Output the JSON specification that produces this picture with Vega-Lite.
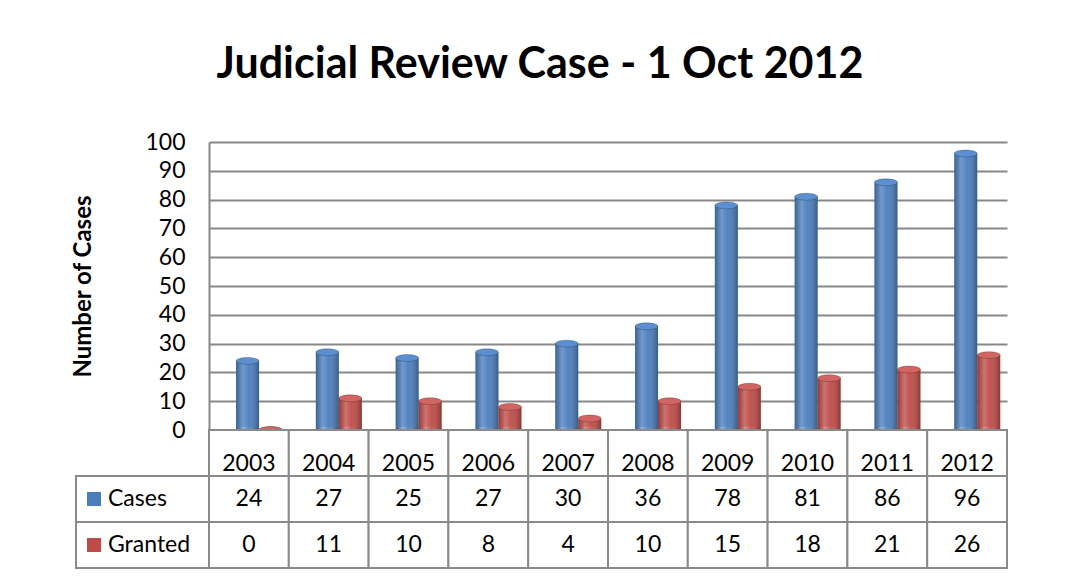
{
  "$schema": "https://vega.github.io/schema/vega-lite/v6.json",
  "padding": {"left": 71, "top": 44, "right": 0, "bottom": 0},
  "background": "white",
  "config": {
    "view": {"stroke": null},
    "font": "Lato",
    "text": {"font": "Lato", "fontSize": 23, "color": "black"},
    "axisY": {
      "values": [0, 10, 20, 30, 40, 50, 60, 70, 80, 90, 100],
      "labelOverlap": false,
      "grid": true, "gridColor": "#888888", "gridWidth": 2,
      "domain": true, "domainColor": "#888888", "domainWidth": 2,
      "ticks": false, "labelPadding": 24,
      "labelFont": "Lato", "labelFontSize": 23, "labelColor": "black",
      "titleFont": "Lato", "titleFontSize": 24,
      "titleFontWeight": "bold", "titleColor": "black", "titlePadding": 49
    }
  },
  "title": {
    "text": "Judicial Review Case - 1 Oct 2012",
    "font": "Lato",
    "fontSize": 43,
    "fontWeight": "bold",
    "color": "black",
    "anchor": "middle",
    "offset": 44
  },
  "datasets": {
    "jr": [
      {"year": "2003", "series": "Cases", "value": 24},
      {"year": "2004", "series": "Cases", "value": 27},
      {"year": "2005", "series": "Cases", "value": 25},
      {"year": "2006", "series": "Cases", "value": 27},
      {"year": "2007", "series": "Cases", "value": 30},
      {"year": "2008", "series": "Cases", "value": 36},
      {"year": "2009", "series": "Cases", "value": 78},
      {"year": "2010", "series": "Cases", "value": 81},
      {"year": "2011", "series": "Cases", "value": 86},
      {"year": "2012", "series": "Cases", "value": 96},
      {"year": "2003", "series": "Granted", "value": 0},
      {"year": "2004", "series": "Granted", "value": 11},
      {"year": "2005", "series": "Granted", "value": 10},
      {"year": "2006", "series": "Granted", "value": 8},
      {"year": "2007", "series": "Granted", "value": 4},
      {"year": "2008", "series": "Granted", "value": 10},
      {"year": "2009", "series": "Granted", "value": 15},
      {"year": "2010", "series": "Granted", "value": 18},
      {"year": "2011", "series": "Granted", "value": 21},
      {"year": "2012", "series": "Granted", "value": 26}
    ],
    "keys": [
      {"series": "Cases"},
      {"series": "Granted"}
    ]
  },
  "columns": 2,
  "spacing": 0,
  "bounds": "flush",
  "align": "each",
  "concat": [
    {
      "width": 133,
      "height": 288,
      "data": {"values": [{}]},
      "mark": {"type": "text", "text": ""},
      "encoding": {}
    },
    {
      "width": 798,
      "height": 288,
      "data": {"name": "jr"},
      "encoding": {
        "x": {"field": "year", "type": "nominal", "axis": null,
              "scale": {"paddingInner": 0, "paddingOuter": 0}},
        "xOffset": {"field": "series", "type": "nominal",
                    "scale": {"domain": ["Cases", "Granted"], "paddingInner": 0, "paddingOuter": 0.735, "align": 0.8}}
      },
      "layer": [
        {
          "mark": {"type": "bar"},
          "encoding": {
            "y": {"field": "value", "type": "quantitative",
                  "scale": {"domain": [0, 100], "nice": false, "zero": true},
                  "title": "Number of Cases"},
            "color": {"field": "series", "type": "nominal", "legend": null,
                      "scale": {"domain": ["Cases", "Granted"], "range": ["#4A7EBB", "#BE4B48"]}}
          }
        },
        {
          "mark": {"type": "point", "filled": true, "size": 529, "opacity": 1,
                   "shape": "M-1,0 C-1,-0.166 -0.552,-0.3 0,-0.3 C0.552,-0.3 1,-0.166 1,0 C1,0.166 0.552,0.3 0,0.3 C-0.552,0.3 -1,0.166 -1,0 Z"},
          "encoding": {
            "y": {"datum": 0, "type": "quantitative", "title": "Number of Cases"},
            "color": {"field": "series", "type": "nominal", "legend": null}
          }
        },
        {
          "mark": {"type": "point", "filled": true, "size": 529, "opacity": 1,
                   "shape": "M-1,0 C-1,-0.166 -0.552,-0.3 0,-0.3 C0.552,-0.3 1,-0.166 1,0 C1,0.166 0.552,0.3 0,0.3 C-0.552,0.3 -1,0.166 -1,0 Z",
                   "fill": {"gradient": "linear", "x1": 0, "x2": 1, "y1": 0, "y2": 0,
                            "stops": [{"offset": 0, "color": "rgba(0,0,0,0.22)"}, {"offset": 0.3, "color": "rgba(255,255,255,0.22)"}, {"offset": 0.55, "color": "rgba(255,255,255,0.05)"}, {"offset": 1, "color": "rgba(0,0,0,0.28)"}]}},
          "encoding": {
            "y": {"datum": 0, "type": "quantitative", "title": "Number of Cases"}
          }
        },
        {
          "mark": {"type": "bar",
                   "fill": {"gradient": "linear", "x1": 0, "x2": 1, "y1": 0, "y2": 0,
                            "stops": [{"offset": 0, "color": "rgba(0,0,0,0.22)"}, {"offset": 0.3, "color": "rgba(255,255,255,0.22)"}, {"offset": 0.55, "color": "rgba(255,255,255,0.05)"}, {"offset": 1, "color": "rgba(0,0,0,0.28)"}]}},
          "encoding": {
            "y": {"field": "value", "type": "quantitative", "title": "Number of Cases"}
          }
        },
        {
          "mark": {"type": "point", "filled": true, "size": 529, "opacity": 1,
                   "stroke": "rgba(0,0,0,0.25)", "strokeWidth": 0.8,
                   "shape": "M-1,0 C-1,-0.166 -0.552,-0.3 0,-0.3 C0.552,-0.3 1,-0.166 1,0 C1,0.166 0.552,0.3 0,0.3 C-0.552,0.3 -1,0.166 -1,0 Z"},
          "encoding": {
            "y": {"field": "value", "type": "quantitative", "title": "Number of Cases"},
            "fill": {"field": "series", "type": "nominal", "legend": null,
                     "scale": {"domain": ["Cases", "Granted"], "range": ["#5B8FD0", "#D06562"]}}
          }
        }
      ]
    },
    {
      "width": 133,
      "height": 138,
      "data": {"name": "keys"},
      "encoding": {
        "y": {"field": "series", "type": "nominal", "axis": null,
              "scale": {"domain": ["Year", "Cases", "Granted"], "paddingInner": 0, "paddingOuter": 0}}
      },
      "layer": [
        {
          "mark": {"type": "rect", "fill": "white", "stroke": "#8A8A8A", "strokeWidth": 2}
        },
        {
          "mark": {"type": "point", "shape": "square", "filled": true, "size": 196, "opacity": 1, "xOffset": -48.5},
          "encoding": {
            "color": {"field": "series", "type": "nominal", "legend": null,
                      "scale": {"domain": ["Cases", "Granted"], "range": ["#4A7EBB", "#BE4B48"]}}
          }
        },
        {
          "mark": {"type": "text", "align": "left", "baseline": "middle", "dx": -34.5, "fontSize": 23, "font": "Lato", "color": "black"},
          "encoding": {
            "text": {"field": "series"}
          }
        }
      ]
    },
    {
      "width": 798,
      "height": 138,
      "data": {"name": "jr"},
      "encoding": {
        "x": {"field": "year", "type": "nominal", "axis": null,
              "scale": {"paddingInner": 0, "paddingOuter": 0}}
      },
      "layer": [
        {
          "mark": {"type": "rect", "fill": "white", "stroke": "#8A8A8A", "strokeWidth": 2},
          "encoding": {
            "y": {"field": "series", "type": "nominal", "axis": null,
                  "scale": {"domain": ["Year", "Cases", "Granted"], "paddingInner": 0, "paddingOuter": 0}}
          }
        },
        {
          "transform": [{"filter": "datum.series === 'Cases'"}],
          "mark": {"type": "rect", "fill": "white", "stroke": "#8A8A8A", "strokeWidth": 2},
          "encoding": {
            "y": {"datum": "Year", "type": "nominal"}
          }
        },
        {
          "mark": {"type": "text", "baseline": "middle", "fontSize": 23, "font": "Lato", "color": "black"},
          "encoding": {
            "y": {"field": "series", "type": "nominal"},
            "text": {"field": "value", "type": "quantitative"}
          }
        },
        {
          "transform": [{"filter": "datum.series === 'Cases'"}],
          "mark": {"type": "text", "baseline": "middle", "dy": 11, "fontSize": 23, "font": "Lato", "color": "black"},
          "encoding": {
            "y": {"datum": "Year", "type": "nominal"},
            "text": {"field": "year", "type": "nominal"}
          }
        }
      ]
    }
  ]
}
